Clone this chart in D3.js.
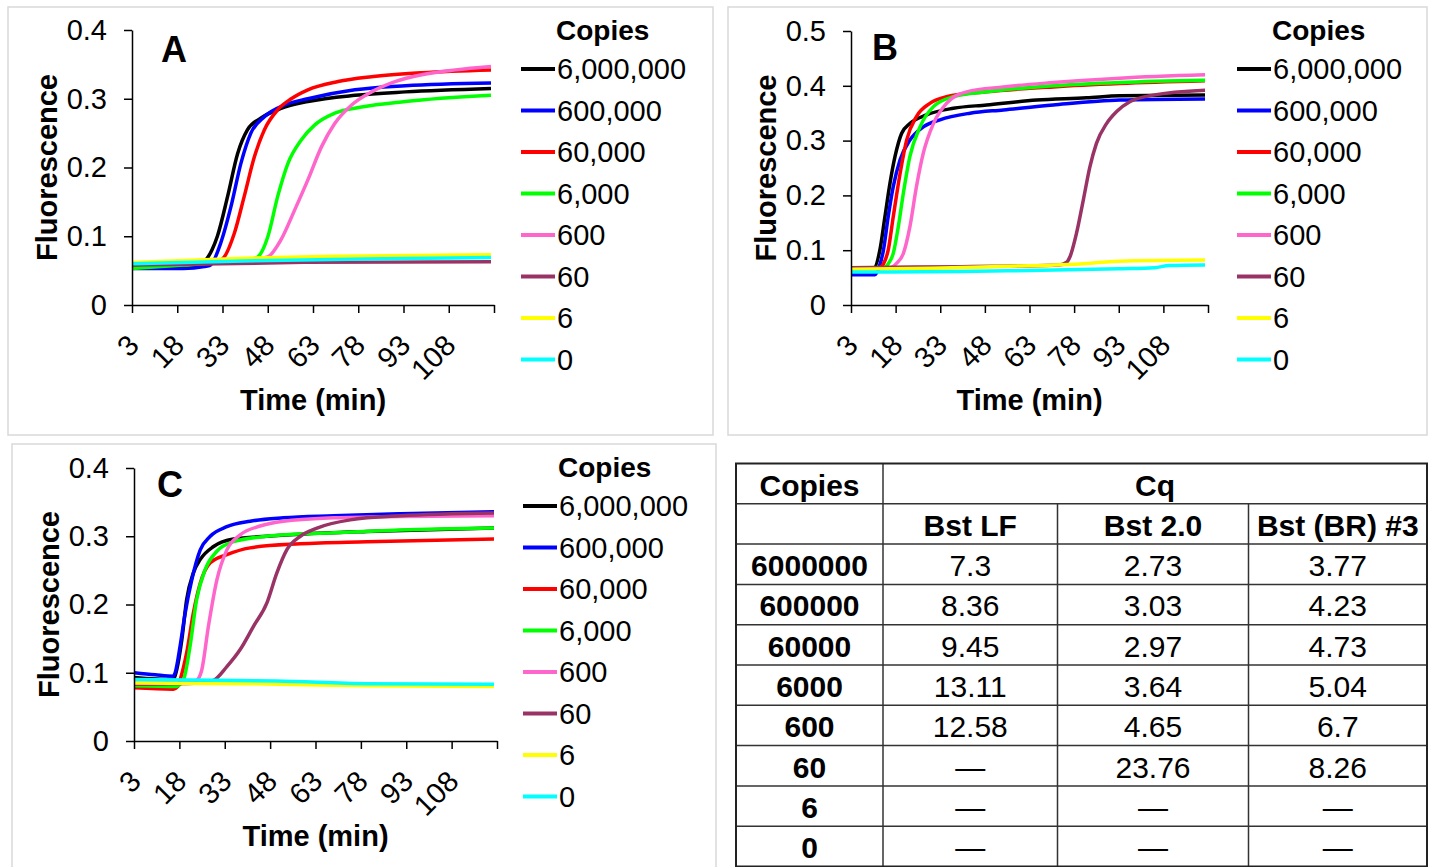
<!DOCTYPE html>
<html>
<head>
<meta charset="utf-8">
<script src="https://cdn.jsdelivr.net/npm/d3@7"></script>
<style>
  body { margin: 0; background: #fff; }
  svg text { font-family: "Liberation Sans", Arial, sans-serif; fill: #000; }
  .axis path, .axis line { stroke: #000; stroke-width: 1.5; }
  .axis text { font-size: 29px; }
  .axis-title { font-size: 29px; font-weight: bold; }
  .panel-letter { font-size: 36px; font-weight: bold; }
  .legend-title { font-size: 28px; font-weight: bold; }
  .legend-label { font-size: 29px; }
  .cell { font-size: 30px; }
  .cell-bold { font-size: 30px; font-weight: bold; }
</style>
</head>
<body>
<div id="chart"></div>
<script>
// legend categories + colours (same for all 3 panels)
const copies = ["6,000,000", "600,000", "60,000", "6,000", "600", "60", "6", "0"];
const colours = ["#000000", "#0000ff", "#ff0000", "#00ff00", "#ff66cc", "#993366", "#ffff00", "#00ffff"];

// x ticks (min) - labels every 15 min, last tick unlabelled
const timeTicks = [3, 18, 33, 48, 63, 78, 93, 108, 123];

// panel A: [time, fluorescence], one list per copy number
const fluorA = [
  [[3,0.055],[15,0.055],[25,0.057],[27.4,0.065],[29.5,0.08],[31.3,0.1],[34.7,0.158],[38,0.22],[41.3,0.255],[45.8,0.272],[52.4,0.286],[61.3,0.296],[76.9,0.305],[93.6,0.31],[122,0.315]],
  [[3,0.053],[20,0.053],[27,0.056],[29,0.058],[32.4,0.09],[35.8,0.143],[39.1,0.206],[42.4,0.25],[46.9,0.274],[53.6,0.291],[61.3,0.3],[76.9,0.313],[93.6,0.319],[122,0.323]],
  [[3,0.056],[20,0.058],[30,0.062],[33,0.067],[36.9,0.104],[40.2,0.158],[43.6,0.216],[46.9,0.255],[51.3,0.284],[55.8,0.3],[61.3,0.313],[71.3,0.325],[82.4,0.332],[99.1,0.338],[122,0.342]],
  [[3,0.053],[20,0.058],[35,0.063],[42,0.066],[44.7,0.07],[48,0.099],[51.3,0.158],[54.7,0.206],[59.1,0.24],[63.6,0.262],[70.2,0.279],[79.1,0.288],[93.6,0.296],[122,0.305]],
  [[3,0.06],[30,0.063],[44,0.067],[48,0.07],[52.4,0.095],[56.9,0.138],[61.3,0.182],[65.8,0.23],[70.2,0.264],[75.8,0.291],[82.4,0.31],[90.2,0.325],[99.1,0.335],[110.2,0.342],[122,0.347]],
  [[3,0.058],[60,0.062],[122,0.063]],
  [[3,0.062],[40,0.068],[70,0.071],[122,0.073]],
  [[3,0.06],[40,0.064],[80,0.067],[122,0.069]]
];

// panel B
const fluorB = [
  [[3,0.068],[10.7,0.068],[12.7,0.1],[14.4,0.161],[16.1,0.222],[17.8,0.271],[20,0.313],[22.8,0.331],[28.4,0.347],[37.4,0.359],[48.6,0.365],[65.4,0.374],[82.2,0.378],[93.4,0.382],[122,0.383]],
  [[3,0.055],[11,0.055],[12.5,0.07],[13.9,0.1],[15.5,0.161],[17.2,0.216],[19.5,0.265],[22.8,0.301],[27.3,0.325],[32.9,0.338],[43,0.35],[54.2,0.356],[71,0.365],[93.4,0.374],[122,0.376]],
  [[3,0.068],[12.5,0.068],[13.9,0.075],[15.5,0.1],[17.2,0.161],[19.5,0.24],[21.7,0.301],[25,0.344],[29.5,0.368],[35.1,0.38],[48.6,0.389],[71,0.398],[93.4,0.404],[122,0.409]],
  [[3,0.066],[14,0.068],[15.5,0.075],[17.2,0.094],[18.9,0.143],[20.6,0.204],[22.8,0.271],[26.2,0.325],[30.7,0.362],[37.4,0.38],[48.6,0.389],[71,0.4],[93.4,0.406],[122,0.41]],
  [[3,0.068],[16,0.068],[18.3,0.076],[20.6,0.094],[22.8,0.143],[25,0.216],[27.3,0.277],[30.7,0.331],[35.1,0.368],[41.9,0.389],[54.2,0.398],[71,0.406],[93.4,0.414],[122,0.42]],
  [[3,0.068],[40,0.07],[60,0.071],[73,0.073],[75.5,0.078],[76.6,0.088],[78.8,0.131],[81.1,0.192],[83.3,0.252],[85.5,0.295],[88.9,0.331],[92.3,0.353],[96.7,0.371],[104.6,0.383],[122,0.392]],
  [[3,0.065],[30,0.067],[50,0.07],[80,0.075],[93,0.08],[122,0.082]],
  [[3,0.06],[40,0.061],[63,0.063],[93,0.066],[105,0.068],[110,0.072],[122,0.073]]
];

// panel C
const fluorC = [
  [[3,0.093],[16,0.09],[17.1,0.104],[18.8,0.148],[20.4,0.207],[22.6,0.246],[24.9,0.266],[29.3,0.285],[35.9,0.296],[46.9,0.3],[58,0.303],[80,0.307],[122,0.312]],
  [[3,0.1],[10,0.097],[16,0.095],[16.6,0.1],[18.2,0.138],[19.9,0.187],[22.1,0.236],[24.9,0.28],[28.2,0.3],[33.7,0.314],[41.4,0.322],[52.4,0.327],[69,0.33],[91.1,0.333],[122,0.336]],
  [[3,0.078],[16,0.076],[17.5,0.08],[18.2,0.089],[20.4,0.129],[22.6,0.187],[24.9,0.231],[28.2,0.261],[33.7,0.273],[41.4,0.283],[58,0.289],[80,0.292],[122,0.296]],
  [[3,0.081],[17,0.08],[19.3,0.089],[21.5,0.138],[23.7,0.207],[26.5,0.251],[30.4,0.278],[35.9,0.292],[46.9,0.3],[69,0.305],[91.1,0.309],[122,0.312]],
  [[3,0.085],[20,0.085],[23.7,0.089],[25.4,0.104],[27.6,0.168],[30.4,0.236],[33.7,0.28],[38.1,0.302],[44.7,0.315],[52.4,0.322],[69,0.327],[91.1,0.329],[122,0.33]],
  [[3,0.083],[25,0.085],[29.3,0.089],[33.7,0.109],[38.1,0.134],[42.5,0.168],[46.9,0.202],[50.2,0.246],[53.5,0.28],[58,0.3],[63.5,0.312],[74.5,0.324],[91.1,0.33],[122,0.334]],
  [[3,0.085],[40,0.084],[80,0.081],[122,0.08]],
  [[3,0.09],[30,0.089],[50,0.088],[80,0.084],[122,0.083]]
];

// Cq table
const tableCopies = ["6000000", "600000", "60000", "6000", "600", "60", "6", "0"];
const enzymes = ["Bst LF", "Bst 2.0", "Bst (BR) #3"];
const cqBstLF = [7.3, 8.36, 9.45, 13.11, 12.58, null, null, null];
const cqBst20 = [2.73, 3.03, 2.97, 3.64, 4.65, 23.76, null, null];
const cqBstBR3 = [3.77, 4.23, 4.73, 5.04, 6.7, 8.26, null, null];

const width = 1430, height = 867;

const svg = d3.select("#chart")
    .append("svg")
    .attr("width", width)
    .attr("height", height);

// light grey panel frames
const frames = [[8, 7, 705, 428], [728, 7, 699, 428], [12, 444, 704, 440]];
svg.selectAll("rect.frame")
    .data(frames)
    .join("rect")
    .attr("class", "frame")
    .attr("x", d => d[0]).attr("y", d => d[1])
    .attr("width", d => d[2]).attr("height", d => d[3])
    .attr("fill", "none")
    .attr("stroke", "#d9d9d9")
    .attr("stroke-width", 1.5);

const drawPanel = (cfg) => {
    const xScale = d3.scaleLinear().domain([3, 123]).range([cfg.x0, cfg.x1]);
    const yScale = d3.scaleLinear().domain([0, cfg.yMax]).range([cfg.yBottom, cfg.yTop]);

    const g = svg.append("g");

    // curves
    const line = d3.line()
        .x(d => xScale(d[0]))
        .y(d => yScale(d[1]))
        .curve(d3.curveMonotoneX);

    g.selectAll("path.curve")
        .data(cfg.data)
        .join("path")
        .attr("class", "curve")
        .attr("d", line)
        .attr("fill", "none")
        .attr("stroke", (d, i) => colours[i])
        .attr("stroke-width", 3.5)
        .attr("stroke-linejoin", "round");

    // x axis
    const bottomAxis = d3.axisBottom(xScale)
        .tickValues(timeTicks)
        .tickSize(8)
        .tickSizeOuter(0)
        .tickFormat(d => d === 123 ? "" : d);
    const xg = g.append("g")
        .attr("class", "axis")
        .attr("transform", `translate(0, ${cfg.yBottom})`)
        .call(bottomAxis);
    xg.selectAll("text")
        .attr("y", 0).attr("x", 0)
        .attr("dy", "0.35em")
        .attr("text-anchor", "end")
        .attr("transform", "translate(1, 35) rotate(-45)");

    // y axis
    const leftAxis = d3.axisLeft(yScale)
        .ticks(cfg.yMax * 10)
        .tickSize(8)
        .tickSizeOuter(0)
        .tickPadding(17)
        .tickFormat(d => d === 0 ? "0" : d.toFixed(1));
    g.append("g")
        .attr("class", "axis")
        .attr("transform", `translate(${cfg.x0}, 0)`)
        .call(leftAxis);

    // titles
    g.append("text")
        .attr("class", "axis-title")
        .attr("x", (cfg.x0 + cfg.x1) / 2)
        .attr("y", cfg.yBottom + 105)
        .attr("text-anchor", "middle")
        .text("Time (min)");

    g.append("text")
        .attr("class", "axis-title")
        .attr("transform", `translate(${cfg.x0 - 75}, ${(cfg.yTop + cfg.yBottom) / 2}) rotate(-90)`)
        .attr("text-anchor", "middle")
        .text("Fluorescence");

    g.append("text")
        .attr("class", "panel-letter")
        .attr("x", cfg.letterX)
        .attr("y", cfg.letterY)
        .text(cfg.letter);

    // legend
    const legend = svg.append("g")
        .attr("transform", `translate(${cfg.legendX}, ${cfg.legendY})`);

    legend.append("text")
        .attr("class", "legend-title")
        .attr("x", 35)
        .attr("y", -29)
        .text("Copies");

    copies.forEach((c, i) => {
        const row = legend.append("g")
            .attr("transform", `translate(0, ${i * 41.5})`);
        row.append("line")
            .attr("x1", 0).attr("x2", 34)
            .attr("stroke", colours[i])
            .attr("stroke-width", 4);
        row.append("text")
            .attr("class", "legend-label")
            .attr("x", 36)
            .attr("y", 10)
            .text(c);
    });
};

drawPanel({ data: fluorA, yMax: 0.4, x0: 132, x1: 494, yTop: 30, yBottom: 305,
    letter: "A", letterX: 161, letterY: 62, legendX: 521, legendY: 69 });
drawPanel({ data: fluorB, yMax: 0.5, x0: 851, x1: 1208, yTop: 31, yBottom: 305,
    letter: "B", letterX: 872, letterY: 60, legendX: 1237, legendY: 69 });
drawPanel({ data: fluorC, yMax: 0.4, x0: 134, x1: 497, yTop: 468, yBottom: 741,
    letter: "C", letterX: 157, letterY: 497, legendX: 523, legendY: 506 });

// ---- Cq table ----
const colEdges = [736, 883, 1057.5, 1248.5, 1427];
const rowScale = d3.scaleLinear().domain([0, 10]).range([463.5, 866.5]);
const colMid = i => (colEdges[i] + colEdges[i + 1]) / 2;
const fmt = v => v === null ? "\u2014" : String(v);

const table = svg.append("g");

// horizontal rules
table.selectAll("line.h")
    .data(d3.range(1, 10))
    .join("line")
    .attr("x1", colEdges[0]).attr("x2", colEdges[4])
    .attr("y1", d => rowScale(d)).attr("y2", d => rowScale(d))
    .attr("stroke", "#333").attr("stroke-width", 1.5);

// vertical rules
table.append("line")
    .attr("x1", colEdges[1]).attr("x2", colEdges[1])
    .attr("y1", rowScale(0)).attr("y2", rowScale(10))
    .attr("stroke", "#333").attr("stroke-width", 1.5);
table.selectAll("line.v")
    .data([2, 3])
    .join("line")
    .attr("x1", d => colEdges[d]).attr("x2", d => colEdges[d])
    .attr("y1", rowScale(1)).attr("y2", rowScale(10))
    .attr("stroke", "#333").attr("stroke-width", 1.5);

table.append("rect")
    .attr("x", colEdges[0]).attr("y", rowScale(0))
    .attr("width", colEdges[4] - colEdges[0])
    .attr("height", rowScale(10) - rowScale(0))
    .attr("fill", "none").attr("stroke", "#222").attr("stroke-width", 2);

// header
table.append("text").attr("class", "cell-bold")
    .attr("x", colMid(0)).attr("y", rowScale(0) + 32)
    .attr("text-anchor", "middle").text("Copies");
table.append("text").attr("class", "cell-bold")
    .attr("x", (colEdges[1] + colEdges[4]) / 2).attr("y", rowScale(0) + 32)
    .attr("text-anchor", "middle").text("Cq");
table.selectAll("text.enz")
    .data(enzymes)
    .join("text")
    .attr("class", "cell-bold enz")
    .attr("x", (d, i) => colMid(i + 1))
    .attr("y", rowScale(1) + 32)
    .attr("text-anchor", "middle")
    .text(d => d);

// body
const cqCols = [cqBstLF, cqBst20, cqBstBR3];
tableCopies.forEach((c, r) => {
    const y = rowScale(r + 2) + 32;
    table.append("text").attr("class", "cell-bold")
        .attr("x", colMid(0)).attr("y", y)
        .attr("text-anchor", "middle").text(c);
    cqCols.forEach((col, j) => {
        table.append("text").attr("class", "cell")
            .attr("x", colMid(j + 1)).attr("y", y)
            .attr("text-anchor", "middle").text(fmt(col[r]));
    });
});
</script>
</body>
</html>
